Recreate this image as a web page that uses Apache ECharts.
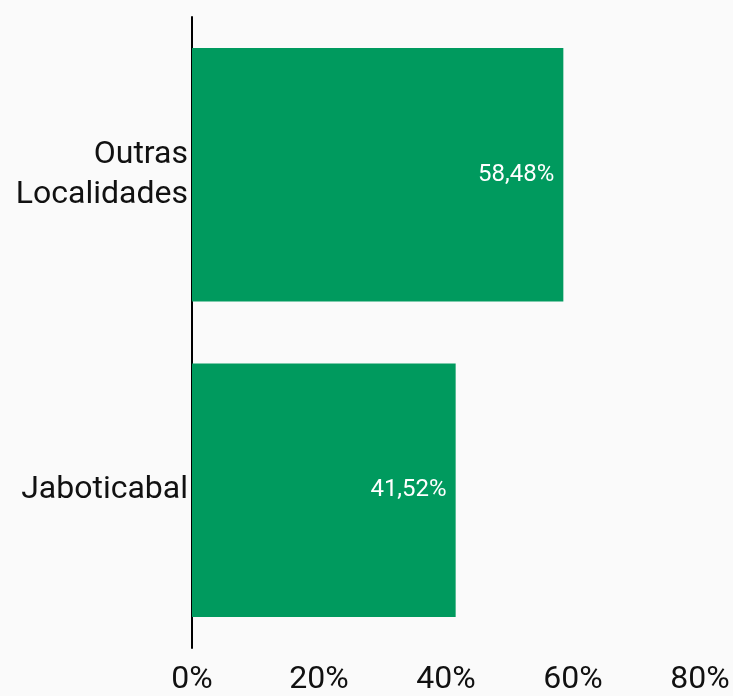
<!DOCTYPE html>
<html><head><meta charset="utf-8">
<script src="https://cdn.jsdelivr.net/npm/echarts@6/dist/echarts.min.js"></script>
<style>html,body{margin:0;padding:0;background:#fafafa;}#c{width:733px;height:696px;}</style>
</head><body><div id="c"></div>
<script>
const categories = ['Jaboticabal', 'Outras\nLocalidades'];
const values = [41.52, 58.48];
const xTicks = [0, 20, 40, 60, 80];

const chart = echarts.init(document.getElementById('c'));
chart.setOption({
  backgroundColor: '#fafafa',
  animation: false,
  grid: { left: 192, right: 33, top: 17, bottom: 44 },
  xAxis: {
    type: 'value', min: xTicks[0], max: xTicks[xTicks.length - 1], interval: 20,
    axisLine: { show: false }, axisTick: { show: false }, splitLine: { show: false },
    axisLabel: { formatter: '{value}%', color: '#111', fontFamily: 'Roboto', fontSize: 32, margin: 16 }
  },
  yAxis: {
    type: 'category', data: categories,
    axisLine: { show: true, lineStyle: { color: '#000', width: 2 } },
    axisTick: { show: false },
    axisLabel: { color: '#111', fontFamily: 'Roboto', fontSize: 32, lineHeight: 40, margin: 4, align: 'right', padding: [8, 0, 0, 0] }
  },
  series: [{
    type: 'bar', data: values, barCategoryGap: '19.7%',
    itemStyle: { color: '#009a5e' },
    label: {
      show: true, position: 'insideRight', distance: 9, color: '#fff',
      fontFamily: 'Roboto', fontSize: 24,
      formatter: p => p.value.toFixed(2).replace('.', ',') + '%'
    }
  }]
});
</script></body></html>
